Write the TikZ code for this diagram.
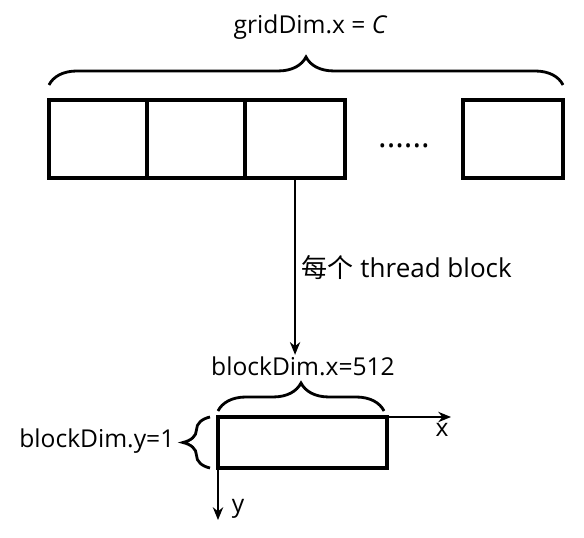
\documentclass[tikz,border=0pt]{standalone}
\usepackage{fontspec}
\setmainfont{Open Sans}
\newfontfamily\cjk{Noto Sans CJK SC}
\usetikzlibrary{positioning,arrows.meta,decorations.pathreplacing}
\tikzset{
  grid-cell/.style={draw,line width=2.3pt,minimum width=2.45cm,
    minimum height=1.95cm,inner sep=0pt,outer sep=0pt},
  dim-brace/.style={decorate,decoration={brace,amplitude=0.7cm},line width=2pt},
  dim-label/.style={font=\fontsize{17.5}{20}\selectfont,inner sep=1pt},
  arrow/.style={-{Stealth[length=3.2mm,width=2.6mm]},line width=1.1pt},
}

\begin{document}
\begin{tikzpicture}[x=0.025cm,y=-0.025cm]
  \useasboundingbox (0,0) rectangle (584,538);
  % grid: C thread blocks
  \node[grid-cell] (blk1) at (98,139) {};
  \node[grid-cell,right=0pt of blk1] (blk2) {};
  \node[grid-cell,right=0pt of blk2,minimum width=2.5cm] (blk3) {};
  \node[grid-cell,minimum width=2.5cm] (blkC) at (513,139) {};
  \node[font=\fontsize{23}{26}\selectfont,anchor=base] (dots) at (404,147) {......};
  \draw[dim-brace] ([yshift=0.375cm]blk1.north west) -- ([yshift=0.375cm]blkC.north east);
  \node[dim-label] (gdx) at (310,27) {gridDim.x = {\itshape C}};

  % one thread block
  \node[draw,line width=2.3pt,minimum width=4.225cm,minimum height=1.275cm,
    inner sep=0pt,outer sep=0pt] (tblk) at (302.5,442.5) {};
  \node[dim-label] (bdx) at (303,366) {blockDim.x=512};
  \draw[dim-brace] ([yshift=0.15cm]tblk.north west) -- ([xshift=-0.075cm,yshift=0.15cm]tblk.north east);
  \draw[dim-brace,decoration={amplitude=0.675cm}] ([xshift=-0.2cm]tblk.south west) -- ([xshift=-0.2cm]tblk.north west);
  \node[dim-label,anchor=east] (bdy) at (176,441) {blockDim.y=1};

  % axes
  \coordinate (xend) at (451,417);
  \coordinate (yend) at (218,520);
  \draw[arrow] (tblk.north west) -- (xend);
  \draw[arrow] (tblk.north west) -- (yend);
  \node[dim-label] (xlab) at (442,430) {x};
  \node[dim-label] (ylab) at (238,509) {y};

  % mapping arrow
  \draw[arrow] (blk3.south) -- (blk3.south |- bdx.north);
  \node[dim-label,font=\fontsize{18.5}{21}\selectfont,anchor=west] (map) at (300,268) {{\cjk 每个} thread block};
\end{tikzpicture}
\end{document}
